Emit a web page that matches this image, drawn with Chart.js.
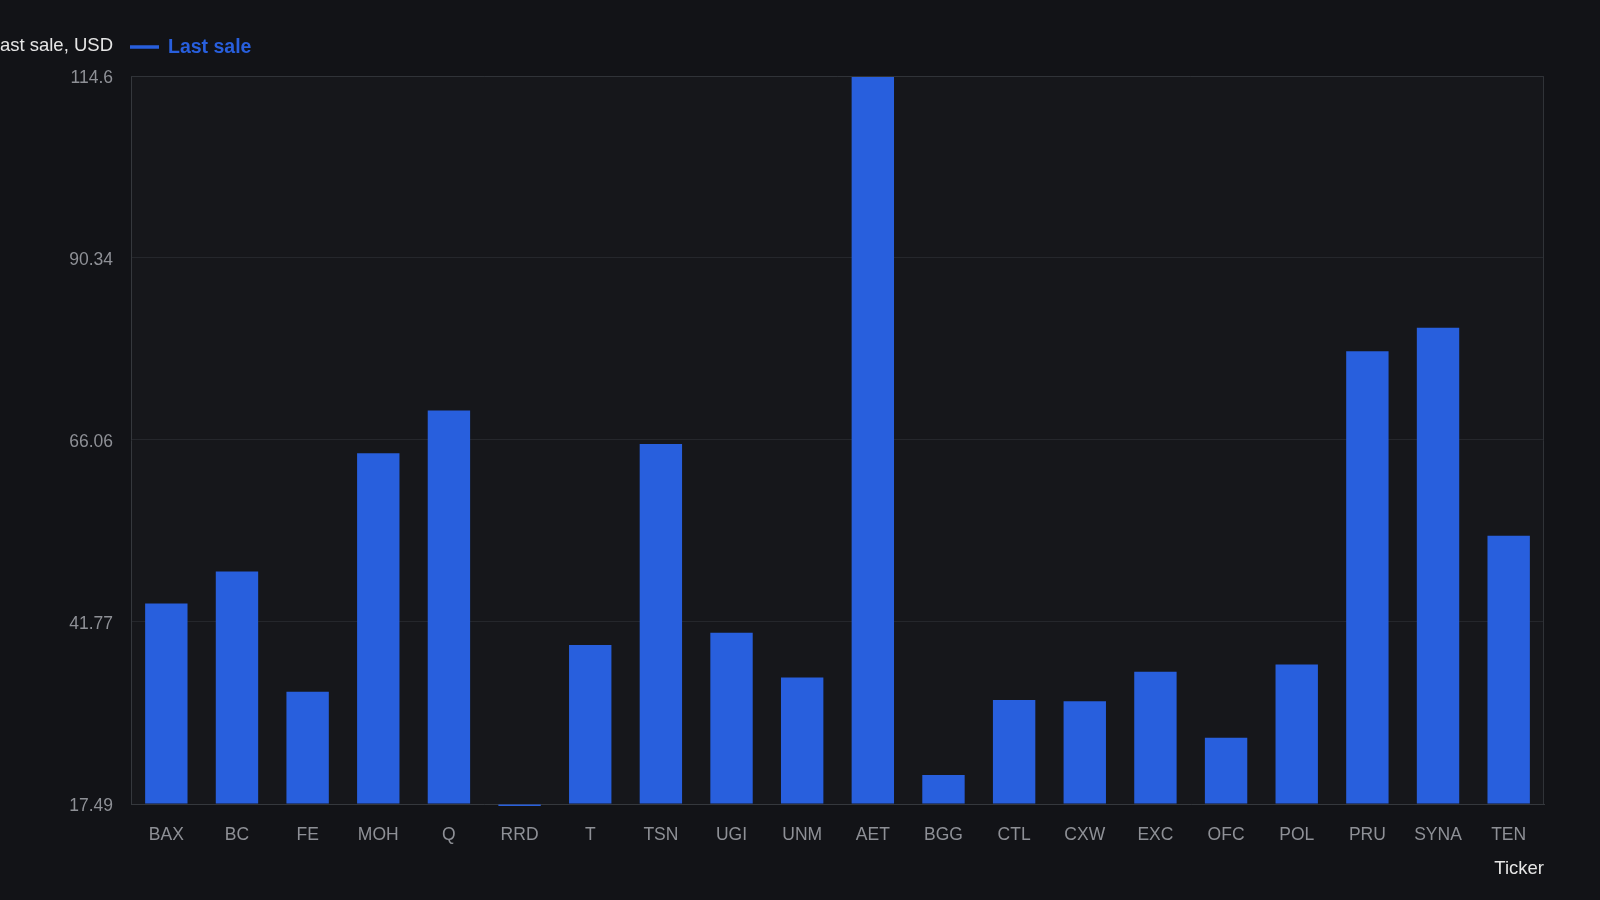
<!DOCTYPE html>
<html>
<head>
<meta charset="utf-8">
<script src="https://cdn.jsdelivr.net/npm/chart.js@4"></script>
<style>
  html, body { margin: 0; padding: 0; background: #121317; }
  #wrap { width: 1600px; height: 900px; }
</style>
</head>
<body>
<div id="wrap"><canvas id="myChart" width="1600" height="900"></canvas></div>
<script>
// data
const tickers = ['BAX', 'BC', 'FE', 'MOH', 'Q', 'RRD', 'T', 'TSN', 'UGI', 'UNM',
                 'AET', 'BGG', 'CTL', 'CXW', 'EXC', 'OFC', 'POL', 'PRU', 'SYNA', 'TEN'];
const lastSale = [44.24, 48.5, 32.45, 64.28, 69.99, 17.22, 38.71, 65.5, 40.34, 34.36,
                  114.6, 21.36, 31.35, 31.18, 35.13, 26.33, 36.11, 77.88, 81.01, 53.26];
const yTickValues = [17.49, 41.77, 66.06, 90.34, 114.6];
const yTickLabels = ['17.49', '41.77', '66.06', '90.34', '114.6'];

const seriesName = 'Last sale';
const yTitle = 'Last sale, USD';
const xTitle = 'Ticker';

const FONT = "'Liberation Sans', Arial, Helvetica, sans-serif";
const BAR = '#285fdd';

// background, plot frame and the loose texts
const framePlugin = {
    id: 'frame',
    beforeDraw(chart) {
        const ctx = chart.ctx;
        const a = chart.chartArea;
        ctx.save();
        ctx.fillStyle = '#121317';
        ctx.fillRect(0, 0, chart.width, chart.height);
        ctx.fillStyle = '#16171b';
        ctx.fillRect(a.left, a.top, a.right - a.left, a.bottom - a.top);
        ctx.restore();
    },
    afterDraw(chart) {
        const ctx = chart.ctx;
        const a = chart.chartArea;
        ctx.save();
        // top and right edge of the frame
        ctx.strokeStyle = '#303338';
        ctx.lineWidth = 1;
        ctx.beginPath();
        ctx.moveTo(a.left, a.top + 0.5);
        ctx.lineTo(a.right - 0.5, a.top + 0.5);
        ctx.lineTo(a.right - 0.5, a.bottom);
        ctx.stroke();

        // y axis title, written flat at the top left
        ctx.font = '18.5px ' + FONT;
        ctx.fillStyle = '#e6e6e6';
        ctx.textAlign = 'right';
        ctx.textBaseline = 'middle';
        ctx.fillText(yTitle, 113, 45.5);

        // legend
        ctx.strokeStyle = BAR;
        ctx.lineWidth = 3.5;
        ctx.beginPath();
        ctx.moveTo(130, 47);
        ctx.lineTo(159, 47);
        ctx.stroke();
        ctx.font = 'bold 19.5px ' + FONT;
        ctx.fillStyle = BAR;
        ctx.textAlign = 'left';
        ctx.fillText(seriesName, 168, 48);

        // x axis title
        ctx.font = '18.5px ' + FONT;
        ctx.fillStyle = '#e6e6e6';
        ctx.textAlign = 'right';
        ctx.fillText(xTitle, a.right, 869);
        ctx.restore();
    }
};

const ctx = document.getElementById('myChart').getContext('2d');
new Chart(ctx, {
    type: 'bar',
    data: {
        labels: tickers,
        datasets: [{
            label: seriesName,
            data: lastSale,
            base: yTickValues[0],
            clip: false,
            backgroundColor: BAR,
            borderWidth: 0,
            barPercentage: 0.6,
            categoryPercentage: 1.0
        }]
    },
    options: {
        responsive: false,
        animation: false,
        devicePixelRatio: 1,
        layout: {
            padding: { top: 76, right: 56, bottom: 0, left: 0 }
        },
        scales: {
            x: {
                grid: { display: false, drawTicks: false },
                border: { display: true, color: '#35383d', width: 1 },
                ticks: {
                    color: '#8e9096',
                    font: { family: FONT, size: 17.5 },
                    padding: 21,
                    maxRotation: 0,
                    autoSkip: false
                },
                afterFit(scale) { scale.height = 96; }
            },
            y: {
                min: yTickValues[0],
                max: yTickValues[yTickValues.length - 1],
                grid: { color: '#25272c', lineWidth: 1, drawTicks: false },
                border: { display: true, color: '#35383d', width: 1 },
                ticks: {
                    color: '#8e9096',
                    font: { family: FONT, size: 17.5 },
                    padding: 18,
                    labelOffset: 2,
                    callback: function(value, index) {
                        return yTickLabels[index];
                    }
                },
                afterBuildTicks(scale) {
                    scale.ticks = yTickValues.map(v => ({ value: v }));
                },
                afterFit(scale) { scale.width = 131; }
            }
        },
        plugins: {
            legend: { display: false },
            tooltip: { enabled: false }
        }
    },
    plugins: [framePlugin]
});
</script>
</body>
</html>
